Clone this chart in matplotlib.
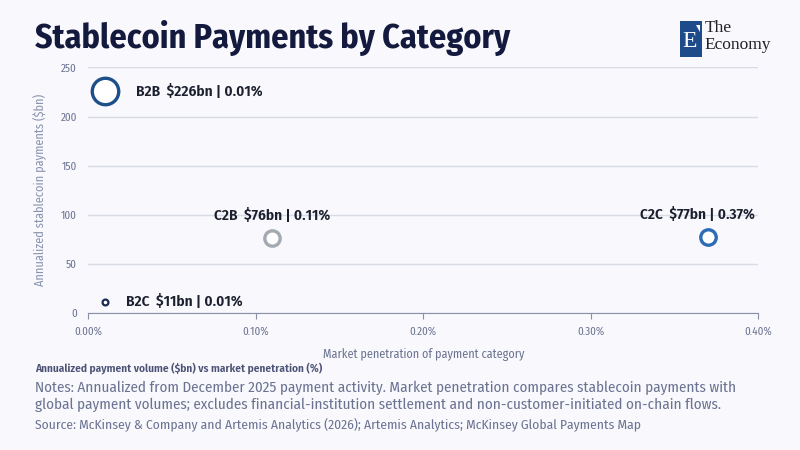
import matplotlib
matplotlib.use('Agg')
import matplotlib.pyplot as plt
from matplotlib.patches import Rectangle, Polygon
from matplotlib.ticker import FuncFormatter, MultipleLocator

plt.rcParams['font.family'] = ['Fira Sans Condensed', 'DejaVu Sans']

categories = ['B2B', 'C2B', 'C2C', 'B2C']
volume_bn = [226, 76, 77, 11]
penetration = [0.01, 0.11, 0.37, 0.01]
edge_colors = ['#1d4f8a', '#a3aab1', '#2d6bb5', '#1b2b4f']
label_pos = ['right', 'above', 'above', 'right']
label_dx = [0, 0, -11, 0]  # px shift of the labels above the markers

bg = '#f8f8fd'
navy = '#141a3e'
muted = '#6b7391'
PT = 0.72  # points per pixel at dpi 100

fig = plt.figure(figsize=(8, 4.5), dpi=100, facecolor=bg)
ax = fig.add_axes([0.11, 0.305, 0.838, 0.545], facecolor=bg)

for cat, v, p, c, pos, dx in zip(categories, volume_bn, penetration, edge_colors, label_pos, label_dx):
    r = v ** 0.5 * 0.88  # radius in px grows with sqrt of volume
    lw = 2.4 if v > 50 else 1.6
    ax.plot(p, v, 'o', ms=2 * r * PT, mfc='white', mec=c, mew=lw, zorder=3)
    txt = f'{cat}  ${v}bn | {p:.2f}%'
    if pos == 'right':
        ax.annotate(txt, (p, v), xytext=((r + 18) * PT, 0), textcoords='offset points',
                    ha='left', va='center', fontsize=11, fontweight='semibold', color='#1c1f2e')
    else:
        ax.annotate(txt, (p, v), xytext=(dx * PT, 15 * PT), textcoords='offset points',
                    ha='center', va='bottom', fontsize=11, fontweight='semibold', color='#1c1f2e')

ax.set_xlim(0, 0.40)
ax.set_ylim(0, 250)
ax.xaxis.set_major_locator(MultipleLocator(0.10))
ax.yaxis.set_major_locator(MultipleLocator(50))
ax.xaxis.set_major_formatter(FuncFormatter(lambda x, _: f'{x:.2f}%'))
ax.grid(axis='y', color='#d9dbe5', lw=1)
ax.set_axisbelow(True)
for s in ['top', 'right', 'left']:
    ax.spines[s].set_visible(False)
ax.spines['bottom'].set_color('#8a90a8')
ax.tick_params(axis='y', length=0, labelsize=8, labelcolor=muted, pad=8)
ax.tick_params(axis='x', length=4, color='#8a90a8', labelsize=8, labelcolor=muted, pad=6)
ax.set_xlabel('Market penetration of payment category', fontsize=8.7, color=muted, labelpad=8)
ax.set_ylabel('Annualized stablecoin payments ($bn)', fontsize=8.8, color='#8a93ad', labelpad=10)

fig.text(0.044, 0.915, 'Stablecoin Payments by Category', fontsize=24.5, fontweight='bold',
         color=navy, va='center', ha='left')

# logo
fig.patches.append(Rectangle((0.85, 0.873), 0.027, 0.08, transform=fig.transFigure,
                             facecolor='#1e4c8a', edgecolor='none'))
fig.patches.append(Polygon([(0.8705, 0.945), (0.8755, 0.945), (0.8755, 0.93)], closed=True,
                           transform=fig.transFigure, facecolor='white', edgecolor='none'))
fig.text(0.862, 0.908, 'E', fontsize=17, color='white', family='Liberation Serif',
         ha='center', va='center')
fig.text(0.881, 0.937, 'The', fontsize=12.5, color='#222', family='Liberation Serif', va='center')
fig.text(0.881, 0.899, 'Economy', fontsize=12.5, color='#222', family='Liberation Serif', va='center')

fig.text(0.044, 0.182, 'Annualized payment volume ($bn) vs market penetration (%)', fontsize=8.2,
         fontweight='semibold', color='#4b5275', va='center')
fig.text(0.044, 0.139, 'Notes: Annualized from December 2025 payment activity. Market penetration compares '
         'stablecoin payments with', fontsize=10.85, color=muted, va='center')
fig.text(0.044, 0.100, 'global payment volumes; excludes financial-institution settlement and '
         'non-customer-initiated on-chain flows.', fontsize=10.85, color=muted, va='center')
fig.text(0.044, 0.056, 'Source: McKinsey & Company and Artemis Analytics (2026); Artemis Analytics; '
         'McKinsey Global Payments Map', fontsize=9.75, color=muted, va='center')

fig.savefig('out.png', dpi=100, facecolor=bg)
